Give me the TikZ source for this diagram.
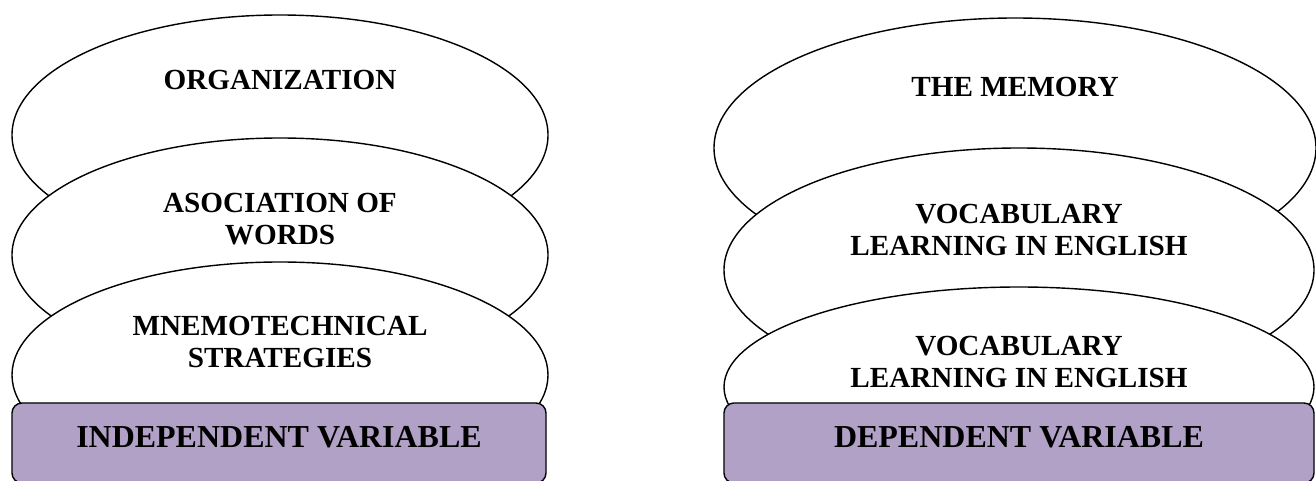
\documentclass[tikz,border=0pt]{standalone}
\usepackage{fontspec}
\setmainfont{Liberation Serif}
\usepackage{tikz}
\usetikzlibrary{shapes}
\usetikzlibrary{positioning}
\definecolor{varPurple}{HTML}{B2A1C7}

\begin{document}
\begin{tikzpicture}[auto, node distance = 2.4cm, line width = 0.8pt]
\tikzset{
  oval/.style = {draw, fill = white, ellipse, inner sep = 0pt},
  caption/.style = {align = center, font = \fontsize{16.6}{18.4}\selectfont\bfseries},
  varbox/.style = {draw, fill = varPurple, rectangle, rounded corners = 0.2cm, inner sep = 0pt},
  vartext/.style = {font = \fontsize{18.2}{20}\selectfont\bfseries},
}
\useasboundingbox (0, 0) rectangle (26.32, -9.62);
% independent side
\node [oval, minimum width = 10.72cm, minimum height = 4.8cm] (organization) at (5.6, -2.7) {};
\node [caption, above of = organization, node distance = 1.1cm] (organizationText) {ORGANIZATION};
\node [oval, below of = organization, minimum width = 10.72cm, minimum height = 4.68cm] (association) {};
\node [caption, above of = association, node distance = 0.72cm] (associationText) {ASOCIATION OF\\WORDS};
\node [oval, below of = association, minimum width = 10.72cm, minimum height = 4.52cm] (mnemonics) {};
\node [caption, above of = mnemonics, node distance = 0.66cm] (mnemonicsText) {MNEMOTECHNICAL\\STRATEGIES};
\node [varbox, minimum width = 10.68cm, minimum height = 1.6cm] (independent) at (5.58, -8.86) {};
\node [vartext, above of = independent, node distance = 0.11cm] (independentText) {INDEPENDENT VARIABLE};
% dependent side
\node [oval, minimum width = 12.04cm, minimum height = 5.2cm] (memory) at (20.3, -2.96) {};
\node [caption, above of = memory, node distance = 1.22cm] (memoryText) {THE MEMORY};
\node [oval, minimum width = 11.8cm, minimum height = 4.88cm] (vocabularyA) at (20.38, -5.4) {};
\node [caption, above of = vocabularyA, node distance = 0.8cm] (vocabularyAText) {VOCABULARY\\LEARNING IN ENGLISH};
\node [oval, minimum width = 11.8cm, minimum height = 4.0cm] (vocabularyB) at (20.38, -7.74) {};
\node [caption, above of = vocabularyB, node distance = 0.5cm] (vocabularyBText) {VOCABULARY\\LEARNING IN ENGLISH};
\node [varbox, minimum width = 11.8cm, minimum height = 1.6cm] (dependent) at (20.38, -8.86) {};
\node [vartext, above of = dependent, node distance = 0.11cm] (dependentText) {DEPENDENT VARIABLE};
\end{tikzpicture}
\end{document}
